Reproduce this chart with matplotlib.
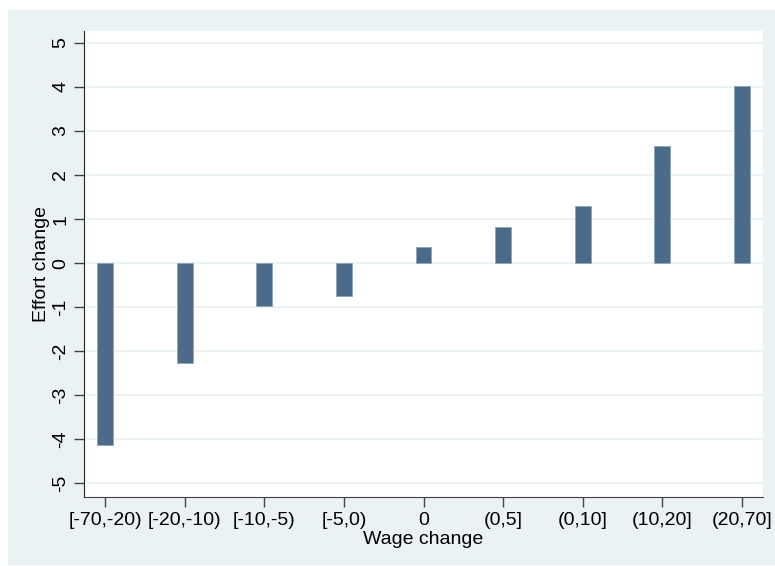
import matplotlib
matplotlib.use('Agg')
import matplotlib.pyplot as plt
from matplotlib.patches import Rectangle

# Data
categories = ['[-70,-20)', '[-20,-10)', '[-10,-5)', '[-5,0)', '0',
              '(0,5]', '(0,10]', '(10,20]', '(20,70]']
effort_change = [-4.14, -2.26, -0.98, -0.74, 0.36, 0.82, 1.30, 2.67, 4.02]
yticks = [-5, -4, -3, -2, -1, 0, 1, 2, 3, 4, 5]

bg = '#EAF2F3'
bar_color = '#4A6B8A'

plt.rcParams['font.family'] = ['Liberation Sans', 'DejaVu Sans']

fig = plt.figure(figsize=(7.75, 5.66), dpi=100)
fig.patch.set_facecolor('white')
fig.patches.append(Rectangle((8 / 775, 1 / 566), 767 / 775, 555 / 566,
                             transform=fig.transFigure, facecolor=bg,
                             edgecolor='none', zorder=-10))

ax = fig.add_axes([84 / 775, 69 / 566, 679 / 775, 466 / 566])
ax.set_facecolor('white')

x = list(range(len(categories)))
ax.bar(x, effort_change, width=0.2, color=bar_color, edgecolor='#8FA5BA',
       linewidth=0.6, zorder=3)

ax.set_xlim(-0.264, 8.264)
ax.set_ylim(-5.31, 5.27)
ax.set_xticks(x)
ax.set_xticklabels(categories, fontsize=14)
ax.set_yticks(yticks)
ax.set_yticklabels([str(v) for v in yticks], fontsize=14, rotation=90,
                   va='center')

ax.grid(axis='y', color=bg, linewidth=1.3, zorder=0)
ax.set_axisbelow(True)

for side in ['top', 'right']:
    ax.spines[side].set_visible(False)
ax.spines['left'].set_color('#222222')
ax.spines['bottom'].set_color('#444444')
ax.tick_params(axis='both', length=7.5, width=1, color='#444444', pad=3)

ax.set_xlabel('Wage change', fontsize=14, labelpad=2)
ax.set_ylabel('Effort change', fontsize=14, labelpad=2)

fig.savefig('out.png', dpi=100, facecolor=fig.get_facecolor())
